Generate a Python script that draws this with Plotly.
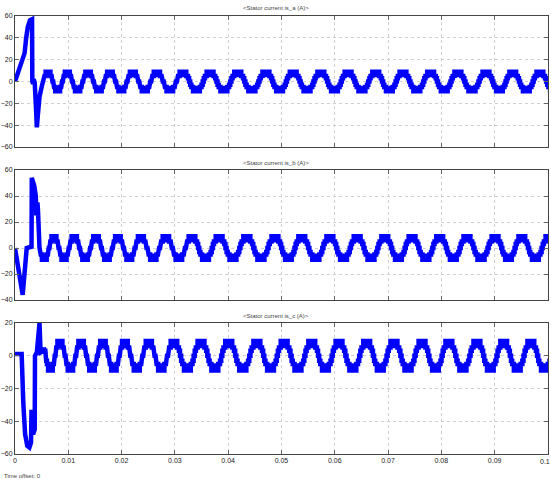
import plotly.graph_objects as go
from plotly.subplots import make_subplots

# ---------------- data ----------------
# start-up transients (time s, current A)
trans_a_t = [0, 0.0009, 0.0018, 0.0021, 0.0024, 0.0028, 0.0032, 0.00325, 0.0034, 0.0035, 0.0037, 0.0039, 0.0041, 0.0043, 0.0046, 0.0050, 0.0053]
trans_a_v = [0, 13, 26, 40, 50, 56, 57, 0, -2, 2, -1, -20, -42, -30, -14, -5, 0]

trans_b_t = [0, 0.00144, 0.0022, 0.0031, 0.00315, 0.0036, 0.0039, 0.0040, 0.0042, 0.0043, 0.0046, 0.0047]
trans_b_v = [0, -36, 0, 1, 54, 48, 40, 25, 35, 30, 0, -2]

trans_c_t = [0, 0.00125, 0.00156, 0.0019, 0.0023, 0.0027, 0.0030, 0.0031, 0.0034, 0.0037, 0.00375, 0.0041, 0.0046, 0.0048, 0.0054]
trans_c_v = [1, 1, -29, -48, -55, -56, -53, -33, -48, -45, 0, 2, 20, 2, 3]

# centres of the positive "M" humps of each phase (s)
humps_a = [0.0026, 0.0062, 0.0098, 0.0137, 0.0178, 0.0221, 0.0266, 0.0315, 0.0366, 0.0418, 0.0471,
           0.0522, 0.0574, 0.0625, 0.0677, 0.0728, 0.0780, 0.0831, 0.0884, 0.0934, 0.0985, 0.1036]
humps_b = [0.0037, 0.0073, 0.0111, 0.0152, 0.0193, 0.0236, 0.0283, 0.0332, 0.0383, 0.0435, 0.0488,
           0.0538, 0.0591, 0.0642, 0.0694, 0.0745, 0.0797, 0.0848, 0.0901, 0.0951, 0.1002, 0.1053]
humps_c = [0.0049, 0.0084, 0.0124, 0.0165, 0.0206, 0.0251, 0.0298, 0.0349, 0.0401, 0.0454, 0.0505,
           0.0557, 0.0608, 0.0660, 0.0711, 0.0764, 0.0814, 0.0867, 0.0917, 0.0968, 0.1019]
steady_start = {"a": 0.0053, "b": 0.0047, "c": 0.0054}

# stepped steady-state shape between two hump centres (start of each step, in 1/24 of a period)
step_starts = [0, 1, 3, 4.5, 5.5, 6.5, 7.5, 9, 11, 13, 15, 16.5, 17.5, 18.5, 19.5, 21, 23]
step_levels = [6, 9, 5, 3, 0, -3, -5, -9, -6, -9, -5, -3, 0, 3, 5, 9, 6]

titles = ["<Stator current is_a (A)>", "<Stator current is_b (A)>", "<Stator current is_c (A)>"]
y_ranges = [[-60, 60], [-40, 60], [-60, 20]]
x_ticks = [0, 0.01, 0.02, 0.03, 0.04, 0.05, 0.06, 0.07, 0.08, 0.09, 0.1]
x_tick_text = ["0", "0.01", "0.02", "0.03", "0.04", "0.05", "0.06", "0.07", "0.08", "0.09", "0.1"]


def build(tt, tv, humps, t0):
    xs, ys = list(tt), list(tv)
    for k in range(len(humps) - 1):
        h0, h1 = humps[k], humps[k + 1]
        p = h1 - h0
        edges = step_starts + [24]
        for i, lev in enumerate(step_levels):
            ta = h0 + p * edges[i] / 24
            tb = h0 + p * edges[i + 1] / 24
            if tb <= t0:
                continue
            ta = max(ta, t0)
            xs += [ta, tb]
            ys += [lev, lev]
    return xs, ys


series = [build(trans_a_t, trans_a_v, humps_a, steady_start["a"]),
          build(trans_b_t, trans_b_v, humps_b, steady_start["b"]),
          build(trans_c_t, trans_c_v, humps_c, steady_start["c"])]

fig = make_subplots(rows=3, cols=1)
for i, (xs, ys) in enumerate(series):
    fig.add_trace(go.Scatter(x=xs, y=ys, mode="lines",
                             line=dict(color="#0000FF", width=4.5),
                             showlegend=False, hoverinfo="skip"), row=i + 1, col=1)

domains = [[0.7009, 1.0], [0.3516, 0.6484], [0.0, 0.2991]]
fam = "Liberation Sans Narrow, Liberation Sans, Arial"
font_small = dict(family=fam, size=7, color="#222222")
for i in range(3):
    ax = "" if i == 0 else str(i + 1)
    fig.layout["xaxis" + ax].update(
        domain=[0, 1], range=[0, 0.10002], tickvals=x_ticks[:-1], ticktext=x_tick_text[:-1],
        showticklabels=(i == 2), showgrid=True, gridcolor="#d0d0d0", griddash="dot", gridwidth=1,
        showline=True, linecolor="#444444", linewidth=1, mirror="ticks", automargin=False,
        ticks="inside", ticklen=4, tickcolor="#666666", zeroline=False, tickfont=font_small)
    fig.layout["yaxis" + ax].update(
        domain=domains[i], range=y_ranges[i], dtick=20, automargin=False,
        showgrid=True, gridcolor="#d0d0d0", griddash="dot", gridwidth=1,
        showline=True, linecolor="#444444", linewidth=1, mirror="ticks",
        ticks="inside", ticklen=4, tickcolor="#666666", zeroline=False, tickfont=font_small)

# last x tick label sits on the right edge (plotly drops it there), so place it explicitly
fig.add_annotation(text=x_tick_text[-1], xref="x3", x=x_ticks[-1], yref="paper", y=-0.017,
                   showarrow=False, xanchor="center", yanchor="middle", xshift=-3, font=font_small)

title_y = [1.018, 0.664, 0.315]
for i in range(3):
    fig.add_annotation(text=titles[i], xref="paper", yref="paper", x=0.49, y=title_y[i],
                       showarrow=False, xanchor="center", yanchor="middle",
                       font=dict(family=fam, size=6, color="#444444"))
fig.add_annotation(text="Time offset: 0", xref="paper", yref="paper", x=-0.024, y=-0.05,
                   showarrow=False, xanchor="left", yanchor="middle",
                   font=dict(family=fam, size=6, color="#444444"))

fig.update_layout(width=551, height=481, margin=dict(l=15, r=3, t=16, b=27),
                  paper_bgcolor="white", plot_bgcolor="white")
fig.write_html("out.html", config={"displayModeBar": False},
               post_script="document.body.style.margin='0';document.body.style.overflow='hidden';")
